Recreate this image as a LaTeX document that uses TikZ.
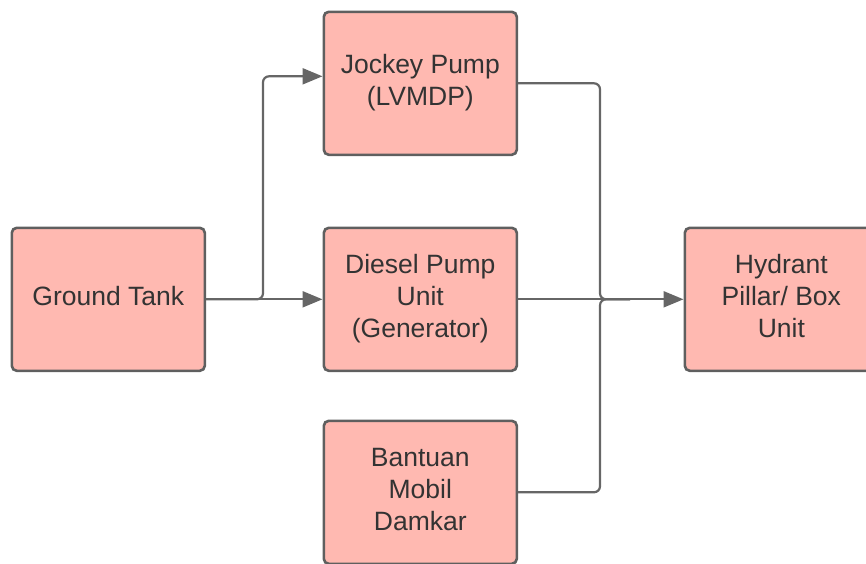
\documentclass[tikz,border=0pt]{standalone}
\usepackage{fontspec}
\setmainfont{Liberation Sans}
\usetikzlibrary{arrows.meta}
\definecolor{boxfill}{HTML}{FFB9B1}
\definecolor{boxdraw}{HTML}{5F5F5F}
\definecolor{linec}{HTML}{666666}
\newcommand{\lbl}[1]{\raisebox{3pt}{\begin{tabular}{@{}c@{}}#1\end{tabular}}}
\begin{document}
\begin{tikzpicture}[x=1pt,y=-1pt,
  blk/.style={draw=boxdraw, fill=boxfill, line width=2.6pt, rounded corners=5pt,
    minimum width=193pt, minimum height=143pt, inner sep=0pt, anchor=north west,
    text=black!80, font=\fontsize{26.5}{32}\selectfont},
  conn/.style={draw=linec, line width=2.2pt, rounded corners=6pt},
  arr/.style={conn, -{Triangle[length=20pt,width=16pt]}}]
\useasboundingbox (0,0) rectangle (866,563);
\begin{scope}
\clip (0,0) rectangle (866,563);
\node[blk] (gt) at (10.5,226.5) {\lbl{Ground Tank}};
\node[blk] (jp) at (322.5,10.5) {\lbl{Jockey Pump\\(LVMDP)}};
\node[blk] (dp) at (322.5,226.5) {\lbl{Diesel Pump\\Unit\\(Generator)}};
\node[blk] (bm) at (322.5,419.5) {\lbl{Bantuan\\Mobil\\Damkar}};
\node[blk] (hy) at (683.5,226.5) {\lbl{Hydrant\\Pillar/ Box\\Unit}};
\coordinate (br) at (263,0);
\coordinate (mg) at (600,0);
\draw[arr] (gt.east) -- (dp.west);
\draw[arr] (gt.east) -- (gt.east -| br) |- ([yshift=7pt]jp.west);
\draw[conn] (jp.east) -| (dp.east -| mg) -- ++(30,0);
\draw[conn] (bm.east) -| (dp.east -| mg) -- ++(30,0);
\draw[arr] (dp.east) -- (hy.west);
\end{scope}
\end{tikzpicture}
\end{document}
